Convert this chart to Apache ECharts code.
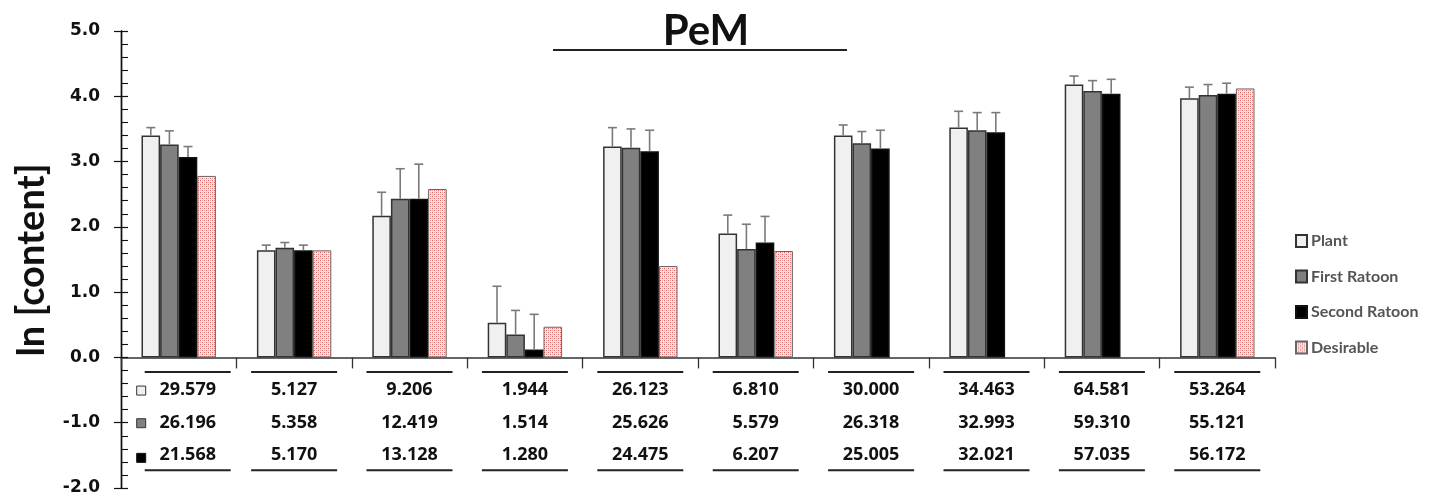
<!DOCTYPE html>
<html>
<head>
<meta charset="utf-8">
<title>PeM</title>
<script src="https://cdn.jsdelivr.net/npm/echarts@6/dist/echarts.min.js"></script>
<style>
  html, body { margin: 0; padding: 0; background: #fff; }
  #chart { width: 1434px; height: 501px; }
</style>
</head>
<body>
<div id="chart"></div>
<script>
// Sample groups along the x axis (labels are not shown; the table below identifies them)
const categories = ['G1', 'G2', 'G3', 'G4', 'G5', 'G6', 'G7', 'G8', 'G9', 'G10'];
const seriesNames = ['Plant', 'First Ratoon', 'Second Ratoon', 'Desirable'];

// Mean ln(content) per group
const plantLn = [3.40, 1.64, 2.17, 0.53, 3.23, 1.90, 3.40, 3.52, 4.18, 3.97];
const firstRatoonLn = [3.26, 1.68, 2.43, 0.35, 3.21, 1.66, 3.28, 3.48, 4.08, 4.02];
const secondRatoonLn = [3.07, 1.64, 2.43, 0.12, 3.16, 1.76, 3.20, 3.45, 4.04, 4.04];
const desirableLn = [2.78, 1.64, 2.58, 0.47, 1.40, 1.63, null, null, null, 4.12];

// Standard deviation of ln(content), drawn as upward error bars
const plantSd = [0.12, 0.08, 0.36, 0.56, 0.29, 0.28, 0.16, 0.25, 0.13, 0.17];
const firstRatoonSd = [0.21, 0.08, 0.46, 0.37, 0.29, 0.38, 0.18, 0.27, 0.16, 0.16];
const secondRatoonSd = [0.16, 0.08, 0.53, 0.54, 0.32, 0.40, 0.28, 0.30, 0.22, 0.16];

// Mean content values listed in the table under the axis
const plantContent = [29.579, 5.127, 9.206, 1.944, 26.123, 6.810, 30.000, 34.463, 64.581, 53.264];
const firstRatoonContent = [26.196, 5.358, 12.419, 1.514, 25.626, 5.579, 26.318, 32.993, 59.310, 55.121];
const secondRatoonContent = [21.568, 5.170, 13.128, 1.280, 24.475, 6.207, 25.005, 32.021, 57.035, 56.172];

// y-axis range and tick step
const yMin = -2, yMax = 5, yStep = 1;
// y positions of the three table rows
const tableRows = [-0.5, -1.0, -1.5];

const BAR_W = 18.6;
const FILLS = ['#f0f0f0', '#808080', '#000000'];
const BORDERS = ['#333333', '#333333', '#111111'];

// dotted pink fill for the "Desirable" bars
function dotPattern() {
  const c = document.createElement('canvas');
  c.width = 4; c.height = 4;
  const g = c.getContext('2d');
  g.fillStyle = '#fbe4e4';
  g.fillRect(0, 0, 4, 4);
  g.fillStyle = '#df6262';
  g.fillRect(0, 0, 1, 1);
  g.fillRect(2, 2, 1, 1);
  g.fillStyle = '#f0a8a8';
  g.fillRect(2, 0, 1, 1);
  g.fillRect(0, 2, 1, 1);
  return c;
}
const desirableFill = { image: dotPattern(), repeat: 'repeat' };

function barSeries(name, values, fill, border, bw) {
  return {
    name: name,
    type: 'bar',
    data: values.map(v => (v === null ? '-' : v)),
    barWidth: BAR_W,
    barGap: '0%',
    itemStyle: { color: fill, borderColor: border, borderWidth: bw },
    emphasis: { disabled: true },
    z: 2
  };
}

function errorSeries(values, sds, slot) {
  return {
    type: 'custom',
    silent: true,
    z: 3,
    data: values.map((v, i) => [i, v, v + sds[i]]),
    encode: { x: 0, y: [1, 2] },
    renderItem: function (params, api) {
      const x = api.coord([api.value(0), 0])[0] + (slot - 1.5) * BAR_W;
      const yBase = api.coord([0, api.value(1)])[1];
      const yTop = api.coord([0, api.value(2)])[1];
      const st = { stroke: '#7a7a7a', lineWidth: 1.6 };
      return {
        type: 'group',
        children: [
          { type: 'line', shape: { x1: x, y1: yBase, x2: x, y2: yTop }, style: st },
          { type: 'line', shape: { x1: x - 4.5, y1: yTop, x2: x + 4.5, y2: yTop }, style: st }
        ]
      };
    }
  };
}

const tableSeries = {
  type: 'custom',
  silent: true,
  z: 4,
  data: categories.map((c, i) => [i, -1]),
  encode: { x: 0, y: 1 },
  renderItem: function (params, api) {
    const i = api.value(0);
    const cx = api.coord([i, 0])[0] + (i === 0 ? 9 : 0);
    const ys = tableRows.map(r => api.coord([0, r])[1]);
    const cols = [plantContent, firstRatoonContent, secondRatoonContent];
    const children = [];
    const lineSt = { stroke: '#222', lineWidth: 2 };
    children.push({ type: 'line', shape: { x1: cx - 43, y1: ys[0] - 18, x2: cx + 43, y2: ys[0] - 18 }, style: lineSt });
    children.push({ type: 'line', shape: { x1: cx - 43, y1: ys[2] + 15, x2: cx + 43, y2: ys[2] + 15 }, style: lineSt });
    cols.forEach((arr, r) => {
      children.push({
        type: 'text',
        style: {
          text: arr[i].toFixed(3),
          x: cx, y: ys[r],
          align: 'center', verticalAlign: 'middle',
          font: 'bold 18px "Open Sans", "Noto Sans", sans-serif',
          fill: '#111'
        }
      });
      if (i === 0) {
        children.push({
          type: 'rect',
          shape: { x: cx - 51, y: ys[r] - 4 + (r === 2 ? 2 : 0), width: 9, height: 9 },
          style: { fill: FILLS[r], stroke: BORDERS[r], lineWidth: 1 }
        });
      }
    });
    return { type: 'group', children: children };
  }
};

const chart = echarts.init(document.getElementById('chart'), null, { renderer: 'canvas' });

chart.setOption({
  animation: false,
  backgroundColor: '#ffffff',
  grid: { left: 121, right: 159, top: 31, bottom: 13, containLabel: false },
  legend: {
    data: seriesNames,
    orient: 'vertical',
    left: 1290,
    top: 228,
    itemWidth: 11,
    itemHeight: 12,
    itemGap: 19.5,
    icon: 'rect',
    textStyle: { fontFamily: 'Lato, "Noto Sans", sans-serif', fontWeight: 'bold', fontSize: 16, color: '#555555', padding: [0, 0, 0, -1] },
    selectedMode: false
  },
  xAxis: {
    type: 'category',
    data: categories,
    boundaryGap: true,
    axisLine: { onZero: true, lineStyle: { color: '#333', width: 1.5 } },
    axisTick: { show: true, length: 11, lineStyle: { color: '#333', width: 1.3 } },
    axisLabel: { show: false },
    splitLine: { show: false }
  },
  yAxis: [
    {
      type: 'value',
      min: yMin, max: yMax, interval: yStep,
      axisLine: { show: true, lineStyle: { color: '#111', width: 1.4 } },
      axisTick: { show: true, inside: true, length: 7, lineStyle: { color: '#111', width: 1.2 } },
      minorTick: { show: true, splitNumber: 5, length: 7, lineStyle: { color: '#111', width: 1.1 } },
      axisLabel: {
        margin: 21,
        formatter: v => v.toFixed(1),
        fontFamily: '"DejaVu Sans", Verdana, sans-serif',
        fontWeight: 'bold',
        fontSize: 17,
        color: '#111'
      },
      splitLine: { show: false }
    },
    {
      type: 'value',
      position: 'left',
      min: yMin, max: yMax, interval: yStep,
      axisLine: { show: true, lineStyle: { color: '#111', width: 1.4 } },
      axisTick: { show: true, inside: false, length: 7, lineStyle: { color: '#111', width: 1.2 } },
      axisLabel: { show: false },
      splitLine: { show: false }
    }
  ],
  graphic: [
    {
      type: 'text',
      x: 706, y: 31,
      style: {
        text: 'PeM',
        align: 'center', verticalAlign: 'middle',
        font: 'bold 42px Lato, "Noto Sans", sans-serif',
        fill: '#111'
      }
    },
    {
      type: 'line',
      shape: { x1: 553, y1: 50, x2: 847, y2: 50 },
      style: { stroke: '#222', lineWidth: 2 }
    },
    {
      type: 'text',
      x: 32, y: 260,
      rotation: Math.PI / 2,
      style: {
        text: 'ln [content]',
        align: 'center', verticalAlign: 'middle',
        font: 'bold 38px Lato, "Noto Sans", sans-serif',
        fill: '#111'
      }
    }
  ],
  series: [
    barSeries('Plant', plantLn, FILLS[0], BORDERS[0], 1.5),
    barSeries('First Ratoon', firstRatoonLn, FILLS[1], BORDERS[1], 1.5),
    barSeries('Second Ratoon', secondRatoonLn, FILLS[2], BORDERS[2], 1.5),
    barSeries('Desirable', desirableLn, desirableFill, '#666666', 1),
    errorSeries(plantLn, plantSd, 0),
    errorSeries(firstRatoonLn, firstRatoonSd, 1),
    errorSeries(secondRatoonLn, secondRatoonSd, 2),
    tableSeries
  ]
});
</script>
</body>
</html>
